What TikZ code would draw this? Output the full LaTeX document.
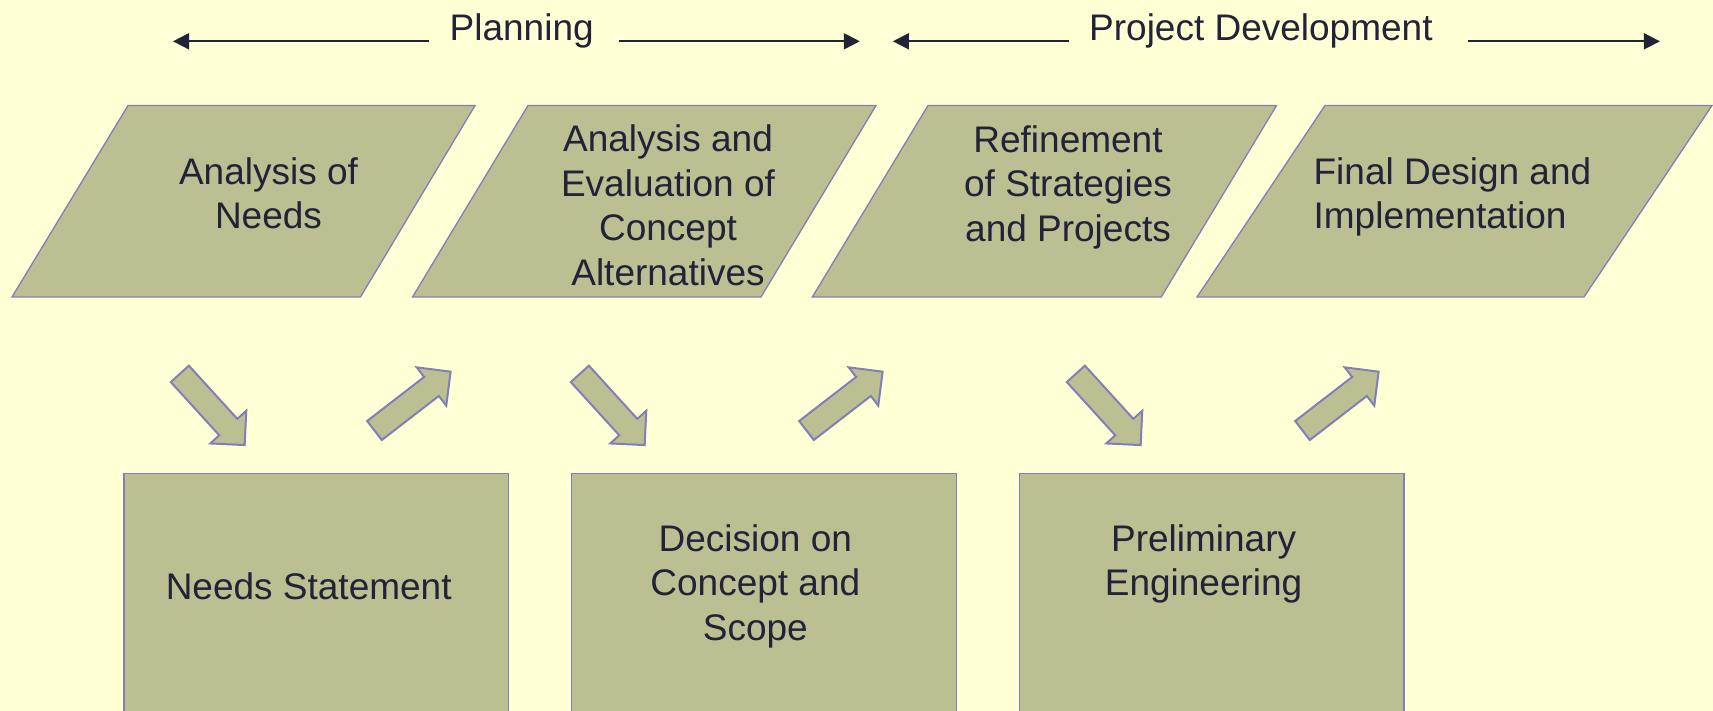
\documentclass[tikz,border=0pt]{standalone}
\usepackage{fontspec}
\setmainfont{Liberation Sans}
\usetikzlibrary{arrows.meta}

\definecolor{bgyellow}{RGB}{255,255,213}
\definecolor{olivefill}{RGB}{187,191,145}
\definecolor{edgeblue}{RGB}{128,128,182}
\definecolor{inkblue}{RGB}{34,34,56}

% several lines stacked, baseline on the first line
\newcommand\stacklines[2]{\begin{tabular}[t]{@{}#1@{}}#2\end{tabular}}

\begin{document}
\begin{tikzpicture}[x=1pt,y=-1pt,
  every node/.style={inner sep=0pt, text=inkblue, font=\fontsize{37}{44.4}\selectfont},
  textmark/.style={anchor=base},
  stagebox/.style={fill=olivefill, draw=edgeblue, line width=1.3pt, line join=miter},
  blockarrow/.style={fill=olivefill, draw=edgeblue, line width=2pt, line join=miter},
  phasearrow/.style={draw=inkblue, line width=2pt, -{Triangle[length=16pt,width=16pt]}}]

% page and background
\path[use as bounding box, fill=bgyellow] (0,0) rectangle (1713,711);
\clip (0,0) rectangle (1713,711);

% phase labels with their span arrows
\node[textmark] (planning) at (521.7,40.5) {Planning};
\node[textmark] (development) at (1260.9,40.5) {Project Development};
\coordinate (plan-left)  at (173,41.3);
\coordinate (plan-a)     at (428.6,41.3);
\coordinate (plan-b)     at (619.4,41.3);
\coordinate (plan-right) at (859.8,41.3);
\coordinate (dev-left)   at (892.9,41.3);
\coordinate (dev-a)      at (1068.9,41.3);
\coordinate (dev-b)      at (1468.1,41.3);
\coordinate (dev-right)  at (1659.9,41.3);
\draw[phasearrow] (plan-a) -- (plan-left);
\draw[phasearrow] (plan-b) -- (plan-right);
\draw[phasearrow] (dev-a) -- (dev-left);
\draw[phasearrow] (dev-b) -- (dev-right);

% process stages (parallelograms)
\draw[stagebox] (128,105.5) -- (475,105.5) -- (360.5,297) -- (12,297) -- cycle;
\draw[stagebox] (528,105.5) -- (876,105.5) -- (761,297) -- (412.5,297) -- cycle;
\draw[stagebox] (928,105.5) -- (1276.5,105.5) -- (1161.2,297) -- (812.3,297) -- cycle;
\draw[stagebox] (1325,105.5) -- (1712,105.5) -- (1584,297) -- (1197,297) -- cycle;

\node[textmark] (needs-analysis) at (268.5,184.5) {\stacklines{c}{Analysis of\\Needs}};
\node[textmark] (concept-eval) at (668,152) {\stacklines{c}{Analysis and\\Evaluation of\\Concept\\Alternatives}};
\node[textmark] (refinement) at (1068,152.5) {\stacklines{c}{Refinement\\of Strategies\\and Projects}};
\node[textmark, anchor=base west] (final-design) at (1313.4,184.5) {\stacklines{l}{Final Design and\\Implementation}};

% decision boxes (run past the lower edge)
\draw[stagebox] (124,473.3) rectangle (508.5,730);
\draw[stagebox] (571.5,473.3) rectangle (956.5,730);
\draw[stagebox] (1019.5,473.3) rectangle (1404,730);

\node[textmark] (needs-statement) at (308.7,599.5) {Needs Statement};
\node[textmark] (decision) at (755.3,551.5) {\stacklines{c}{Decision on\\Concept and\\Scope}};
\node[textmark] (prelim) at (1203.6,551.5) {\stacklines{c}{Preliminary\\Engineering}};

% block arrows: down into the boxes, up into the next stage
\foreach \dx in {0,400,896} {
  \begin{scope}[shift={(179.85+\dx,373.85)}, rotate=-47.7]
    \draw[blockarrow] (0,-12.2) -- (72,-12.2) -- (72,-24.3) -- (96.3,0)
      -- (72,24.3) -- (72,12.2) -- (0,12.2) -- cycle;
  \end{scope}
}
\foreach \dx in {0,432,928} {
  \begin{scope}[shift={(374.5+\dx,430.5)}, rotate=37.7]
    \draw[blockarrow] (0,-12) -- (72,-12) -- (72,-24.2) -- (96.2,0)
      -- (72,24.2) -- (72,12) -- (0,12) -- cycle;
  \end{scope}
}
\end{tikzpicture}
\end{document}
